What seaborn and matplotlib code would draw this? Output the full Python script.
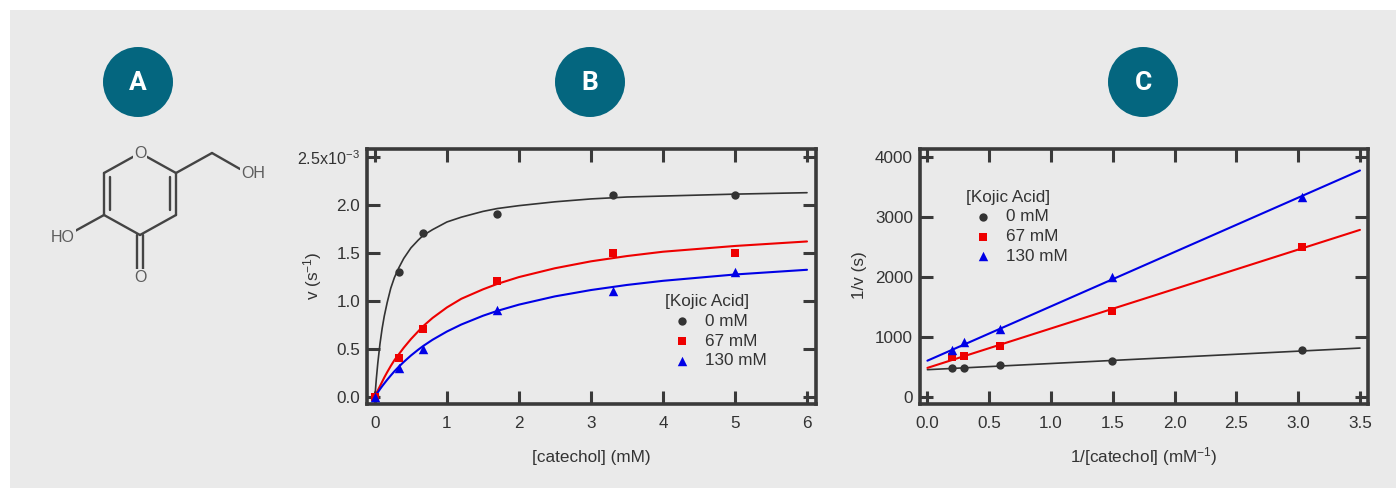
import matplotlib
matplotlib.use('Agg')
import matplotlib.pyplot as plt
import pandas as pd
import seaborn as sns
from matplotlib.patches import Circle, Rectangle

# panel B, points
conc = [0, 0.33, 0.67, 1.7, 3.3, 5]
v_0 = [0, 1.3, 1.7, 1.9, 2.1, 2.1]
v_67 = [0, 0.4, 0.7, 1.2, 1.5, 1.5]
v_130 = [0, 0.3, 0.5, 0.9, 1.1, 1.3]

# panel B, fitted curves
fit_x = [0, 0.02, 0.04, 0.07, 0.1, 0.13, 0.17, 0.22, 0.27, 0.33, 0.4, 0.5, 0.6, 0.67, 0.8, 1, 1.2, 1.5, 1.7, 2, 2.5, 3, 3.5, 4, 5, 6]
fit_0 = [0, 0.19, 0.35, 0.55, 0.71, 0.84, 0.98, 1.13, 1.24, 1.34, 1.44, 1.55, 1.63, 1.68, 1.74, 1.82, 1.87, 1.93, 1.96, 1.99, 2.03, 2.06, 2.08, 2.09, 2.11, 2.125]
fit_67 = [0, 0.033, 0.065, 0.11, 0.155, 0.2, 0.255, 0.32, 0.38, 0.44, 0.51, 0.6, 0.68, 0.735, 0.82, 0.93, 1.02, 1.118, 1.175, 1.246, 1.338, 1.41, 1.465, 1.51, 1.57, 1.617]
fit_130 = [0, 0.023, 0.045, 0.078, 0.109, 0.138, 0.176, 0.221, 0.264, 0.311, 0.362, 0.429, 0.489, 0.528, 0.593, 0.679, 0.752, 0.843, 0.894, 0.959, 1.045, 1.111, 1.164, 1.207, 1.273, 1.322]

# panel C, points
inv_conc = [0.2, 0.3, 0.59, 1.49, 3.03]
inv_0 = [470, 480, 530, 590, 770]
inv_67 = [660, 670, 840, 1430, 2500]
inv_130 = [780, 910, 1130, 2000, 3330]

# panel C, fitted lines
line_x = [0, 3.5]
line_0 = [450, 810]
line_67 = [480, 2780]
line_130 = [600, 3770]

series = ['0 mM', '67 mM', '130 mM']
colors = {'0 mM': '#333333', '67 mM': '#ee0000', '130 mM': '#0000e6'}
markers = {'0 mM': 'o', '67 mM': 's', '130 mM': '^'}
sizes = {'0 mM': 36, '67 mM': 40, '130 mM': 46}
widths = {'0 mM': 1.2, '67 mM': 1.5, '130 mM': 1.5}

badges = ['A', 'B', 'C']
badge_x = [138, 590, 1143]

# kojic acid skeleton, in pixels
bonds_x = [(104, 140), (140, 176), (176, 176), (176, 140), (140, 104), (104, 104), (176, 212), (212, 240), (104, 75),
           (110, 110), (170, 170), (137, 137), (143, 143)]
bonds_y = [(173, 153), (153, 173), (173, 215), (215, 235), (235, 215), (215, 173), (173, 153), (153, 169), (215, 231),
           (177, 210), (177, 210), (235, 270), (235, 270)]
atoms = ['O', 'OH', 'HO', 'O']
atoms_x = [140, 253, 63, 140]
atoms_y = [154, 174, 237, 277]

sns.set_theme(style='ticks')
plt.rcParams['font.family'] = ['Liberation Sans', 'DejaVu Sans']
plt.rcParams['mathtext.default'] = 'regular'
BG = '#eaeaea'
INK = '#333333'
FS = 12.3
W, H = 1396, 488

fig = plt.figure(figsize=(W / 100, H / 100), dpi=100, facecolor='white')

# background layer in pixel coordinates: panel, badges, molecule
bg = fig.add_axes([0, 0, 1, 1], zorder=0)
bg.set_xlim(0, W)
bg.set_ylim(H, 0)
bg.axis('off')
bg.add_patch(Rectangle((10, 10), W - 10, H - 10, color=BG, lw=0))
for name, cx in zip(badges, badge_x):
    bg.add_patch(Circle((cx, 82), 35, color='#04667f', lw=0))
    bg.text(cx, 83, name, color='white', fontsize=19, fontweight='bold', family='Roboto', ha='center', va='center')
for xs, ys in zip(bonds_x, bonds_y):
    bg.plot(xs, ys, color='#444444', lw=1.7, solid_capstyle='round')
for name, ax_x, ax_y in zip(atoms, atoms_x, atoms_y):
    bg.text(ax_x, ax_y, name, color='#5c5c5c', fontsize=11.5, ha='center', va='center',
            bbox=dict(facecolor=BG, edgecolor='none', pad=0.6))


def make_axes(left, right, top=149, bottom=404):
    ax = fig.add_axes([left / W, 1 - bottom / H, (right - left) / W, (bottom - top) / H], zorder=1)
    ax.patch.set_alpha(0)
    for side in ax.spines.values():
        side.set_linewidth(2.6)
        side.set_color('#3a3a3a')
    ax.tick_params(which='major', direction='in', length=9.5, width=2.2, color='#3a3a3a', top=True, right=True,
                   labelsize=FS, labelcolor=INK)
    ax.tick_params(axis='x', pad=9)
    ax.tick_params(axis='y', pad=5)
    return ax


def draw(ax, fx, fits, px, points):
    for name, fy, py in zip(series, fits, points):
        sns.lineplot(x=fx, y=fy, ax=ax, color=colors[name], lw=widths[name], legend=False, zorder=3)
        df = pd.DataFrame({'x': px, 'y': py})
        sns.scatterplot(data=df, x='x', y='y', ax=ax, color=colors[name], marker=markers[name],
                        s=sizes[name], linewidth=0, label=name, zorder=4)


def add_legend(ax, anchor):
    leg = ax.legend(title='[Kojic Acid]', frameon=False, fontsize=FS, title_fontsize=FS, loc='upper left',
                    bbox_to_anchor=anchor, labelspacing=0.27, handletextpad=0.35, borderpad=0, borderaxespad=0,
                    labelcolor=INK, alignment='left')
    leg.get_title().set_color(INK)


# panel B
ax_b = make_axes(367, 816)
draw(ax_b, fit_x, [fit_0, fit_67, fit_130], conc, [v_0, v_67, v_130])
ax_b.set_xlim(-0.11, 6.125)
ax_b.set_ylim(-0.076, 2.58)
ax_b.set_xticks([0, 1, 2, 3, 4, 5, 6])
ax_b.set_yticks([0, 0.5, 1, 1.5, 2, 2.5])
ax_b.set_yticklabels(['0.0', '0.5', '1.0', '1.5', '2.0', '2.5x10$^{-3}$'])
ax_b.get_yticklabels()[-1].set_fontsize(11.6)
ax_b.set_xlabel('[catechol] (mM)', fontsize=FS, color=INK, labelpad=13)
ax_b.set_ylabel('v (s$^{-1}$)', fontsize=FS, color=INK)
ax_b.yaxis.set_label_coords(-0.096, 0.505)
add_legend(ax_b, (0.664, 0.43))

# panel C
ax_c = make_axes(920, 1368)
draw(ax_c, line_x, [line_0, line_67, line_130], inv_conc, [inv_0, inv_67, inv_130])
ax_c.set_xlim(-0.06, 3.565)
ax_c.set_ylim(-122, 4128)
ax_c.set_xticks([0, 0.5, 1, 1.5, 2, 2.5, 3, 3.5])
ax_c.set_yticks([0, 1000, 2000, 3000, 4000])
ax_c.set_xticklabels(['0.0', '0.5', '1.0', '1.5', '2.0', '2.5', '3.0', '3.5'])
ax_c.set_xlabel('1/[catechol] (mM$^{-1}$)', fontsize=FS, color=INK, labelpad=10)
ax_c.set_ylabel('1/v (s)', fontsize=FS, color=INK)
ax_c.yaxis.set_label_coords(-0.119, 0.505)
add_legend(ax_c, (0.103, 0.84))

fig.savefig('out.png', dpi=100, facecolor='white')
